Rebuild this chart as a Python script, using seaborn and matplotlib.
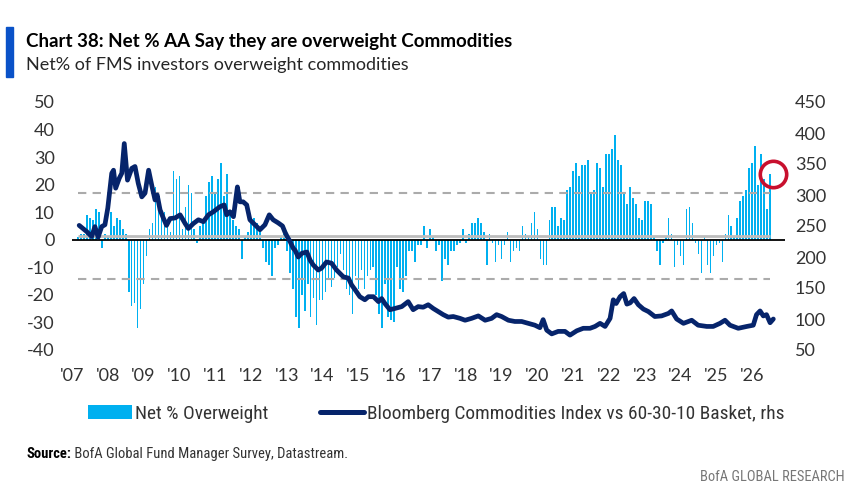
import numpy as np
import pandas as pd
import matplotlib
matplotlib.use("Agg")
import matplotlib.pyplot as plt
import seaborn as sns
from matplotlib import font_manager
from matplotlib.lines import Line2D
from matplotlib.patches import Patch, Rectangle

# ---------------- data ----------------
# Net % of FMS investors overweight commodities, monthly, Mar 2007 .. Jul 2026
y2007 = [1, 2, 2, 9, 8, 7, 11, 10, -3, 2]
y2008 = [1, 10, 5, 8, 7, 4, 2, -19, -24, -23, -32, -25]
y2009 = [-16, -6, 4, 6, 19, 11, 8, 10, 5, 3, 25, 22]
y2010 = [23, 4, 12, 20, 17, 4, -1, 5, 7, 16, 21, 23]
y2011 = [17, 22, 28, 16, 24, 10, 7, 5, 4, -7, 1, 3]
y2012 = [8, 8, 6, 3, -3, -8, -9, -13, -3, -2, 1, 2]
y2013 = [-4, -12, -18, -28, -32, -20, -26, -16, -28, -21, -31, -22]
y2014 = [-22, -19, -14, -17, -14, -10, -5, -11, -18, -20, -27, -13]
y2015 = [-18, -11, -18, -13, -11, -10, -20, -27, -32, -16, -28, -29]
y2016 = [-30, -10, -18, -19, -13, -4, -4, -8, -2, -2, 5, -3]
y2017 = [4, 1, -4, -2, -15, -7, -9, -4, -4, -2, -1, 4]
y2018 = [-1, 2, 6, 6, 8, 6, 3, -9, 2, -1, -8, -2]
y2019 = [-7, -2, 3, -8, -4, -3, -4, 5, 2, 1, 6, 10]
y2020 = [4, -7, -9, -9, 7, 12, 12, 5, 8, 7, 18, 19]
y2021 = [25, 28, 23, 27, 27, 29, 17, 18, 28, 26, 19, 31]
y2022 = [31, 33, 38, 29, 27, 17, 13, 19, 15, 13, 8, 7]
y2023 = [14, 14, 13, 1, -4, -9, -1, 1, 8, 2, -10, -2]
y2024 = [-6, -9, 11, 12, 6, -1, -5, -12, 1, -9, -12, -6]
y2025 = [-2, -1, -8, 2, 9, 5, 1, 8, 14, 16, 18, 26]
y2026 = [28, 34, 20, 31, 22, 11, 24]
first_month = "2007-03-01"

# Bloomberg Commodities Index vs 60-30-10 basket (rhs), decimal year / value
line_t = [2007.20, 2007.41, 2007.55, 2007.64, 2007.73, 2007.83, 2007.92, 2008.00,
          2008.11, 2008.16, 2008.22, 2008.32, 2008.39, 2008.46, 2008.55, 2008.67,
          2008.76, 2008.85, 2008.95, 2009.04, 2009.14, 2009.23, 2009.32, 2009.38,
          2009.46, 2009.55, 2009.64, 2009.74, 2009.88, 2010.02, 2010.16, 2010.25,
          2010.39, 2010.53, 2010.67, 2010.81, 2010.95, 2011.13, 2011.25, 2011.32,
          2011.41, 2011.51, 2011.62, 2011.69, 2011.78, 2011.88, 2011.97, 2012.11,
          2012.25, 2012.39, 2012.51, 2012.62, 2012.76, 2012.88, 2012.95, 2013.01,
          2013.09, 2013.18, 2013.23, 2013.32, 2013.42, 2013.56, 2013.65, 2013.74,
          2013.88, 2013.97, 2014.11, 2014.25, 2014.39, 2014.58, 2014.72, 2014.81,
          2014.91, 2015.04, 2015.18, 2015.28, 2015.42, 2015.56, 2015.65, 2015.74,
          2015.88, 2016.02, 2016.21, 2016.39, 2016.53, 2016.67, 2016.81, 2016.95,
          2017.09, 2017.23, 2017.37, 2017.51, 2017.65, 2017.84, 2017.98, 2018.16,
          2018.35, 2018.54, 2018.72, 2018.86, 2019.00, 2019.19, 2019.37, 2019.56,
          2019.75, 2019.93, 2020.07, 2020.16, 2020.26, 2020.40, 2020.58, 2020.77,
          2020.91, 2021.10, 2021.28, 2021.47, 2021.61, 2021.75, 2021.89, 2022.03,
          2022.12, 2022.20, 2022.31, 2022.41, 2022.50, 2022.59, 2022.70, 2022.82,
          2022.96, 2023.10, 2023.28, 2023.47, 2023.66, 2023.75, 2023.89, 2024.08,
          2024.31, 2024.49, 2024.73, 2024.91, 2025.10, 2025.24, 2025.38, 2025.61,
          2025.85, 2026.03, 2026.12, 2026.22, 2026.31, 2026.40, 2026.50, 2026.59]
line_v = [251, 241, 233, 249, 232, 249, 252, 279,
          335, 340, 311, 327, 335, 383, 324, 343,
          346, 319, 297, 303, 340, 315, 292, 300,
          276, 263, 251, 262, 263, 268, 254, 246,
          254, 260, 257, 268, 273, 281, 284, 268,
          273, 265, 313, 289, 289, 284, 260, 252,
          244, 252, 268, 260, 255, 250, 240, 233,
          225, 214, 211, 200, 206, 208, 195, 187,
          179, 182, 192, 190, 179, 168, 166, 155,
          147, 136, 131, 136, 136, 128, 133, 125,
          115, 117, 120, 128, 115, 120, 119, 123,
          117, 112, 107, 103, 104, 101, 98, 101,
          105, 98, 101, 107, 104, 98, 96, 96,
          93, 90, 86, 99, 82, 76, 80, 80,
          74, 81, 85, 85, 88, 93, 88, 101,
          131, 125, 136, 141, 124, 126, 133, 123,
          116, 112, 104, 105, 109, 113, 100, 93,
          98, 90, 88, 88, 93, 98, 90, 85,
          88, 90, 107, 113, 105, 107, 94, 100]

# reference lines: long-run average and +/- 1 standard deviation
avg_level = 1.4
sd_level = 15.6

left_ticks = list(range(-40, 51, 10))
right_ticks = list(range(50, 451, 50))
years = list(range(2007, 2027))
year_labels = ["'" + str(y)[2:] for y in years]

title = "Chart 38: Net % AA Say they are overweight Commodities"
subtitle = "Net% of FMS investors overweight commodities"
bar_label = "Net % Overweight"
line_label = "Bloomberg Commodities Index vs 60-30-10 Basket, rhs"
source_bold = "Source:"
source_rest = " BofA Global Fund Manager Survey, Datastream."
footer = "BofA GLOBAL RESEARCH"

# ---------------- style ----------------
BAR = "#00B0F0"
NAVY = "#06246B"
RED = "#C8102E"
ACCENT = "#0A52C8"
TXT = "#333333"

sns.set_style("white")
avail = {f.name for f in font_manager.fontManager.ttflist}


def pick(*cands):
    for c in cands:
        if c in avail:
            return c
    return "DejaVu Sans"


MAIN = pick("Lato", "Roboto", "Open Sans")
NARROW = pick("Liberation Sans Narrow", "Roboto Condensed", "Lato")
plt.rcParams["font.family"] = [MAIN, "DejaVu Sans"]

W, H = 863, 495
fig = plt.figure(figsize=(W / 100, H / 100), dpi=100)
fig.patch.set_facecolor("white")

# axes box in pixels: x 72..785, y 102..350
ax = fig.add_axes([72 / W, (H - 350) / H, (785 - 72) / W, (350 - 102) / H])
ax2 = ax.twinx()

net_ow = y2007 + y2008 + y2009 + y2010 + y2011 + y2012 + y2013 + y2014 + y2015 + \
    y2016 + y2017 + y2018 + y2019 + y2020 + y2021 + y2022 + y2023 + y2024 + y2025 + y2026
months = pd.date_range(first_month, periods=len(net_ow), freq="MS")
df = pd.DataFrame({"t": months.year + (months.month - 1) / 12.0, "v": net_ow})

sns.barplot(data=df, x="t", y="v", native_scale=True, color=BAR, saturation=1,
            width=0.55, linewidth=0, errorbar=None, ax=ax, zorder=2)

t0, t1 = df["t"].iloc[0], df["t"].iloc[-1]
ax.axhline(0, color="black", lw=1.3, zorder=4)
ax.hlines(avg_level, t0, t1, color="#BDBDBD", lw=2.0, zorder=3)
for lvl in (avg_level + sd_level, avg_level - sd_level):
    ax.hlines(lvl, t0, t1, color="#ABABAB", lw=1.5, linestyles=(0, (4, 3)), zorder=3)

sns.lineplot(x=line_t, y=line_v, ax=ax2, color=NAVY, linewidth=3.4,
             estimator=None, sort=False, zorder=5)

# highlight circle on latest reading
ax.plot(t1 + 0.09, df["v"].iloc[-1], marker="o", markersize=19, mfc="none",
        mec=RED, mew=2.6, zorder=6, clip_on=False)

ax.set_xlim(2007.0, 2007.0 + (785 - 72) / 35.8)
ax.set_ylim(-40, 50)
ax2.set_ylim(50, 450)
ax.set_xticks(years)
ax.set_xticklabels(year_labels)
ax.set_yticks(left_ticks)
ax.set_yticklabels([str(v) for v in left_ticks])
ax2.set_yticks(right_ticks)
ax2.set_yticklabels([str(v) for v in right_ticks])
ax.set_xlabel("")
ax.set_ylabel("")
ax2.set_xlabel("")
ax2.set_ylabel("")
for a in (ax, ax2):
    for s in a.spines.values():
        s.set_visible(False)
    a.grid(False)
ax.tick_params(axis="y", length=0, pad=12.5, labelsize=13, labelcolor=TXT)
ax.tick_params(axis="x", length=0, pad=13, labelsize=13, labelcolor=TXT)
ax2.tick_params(axis="y", length=0, pad=7, labelsize=13, labelcolor=TXT)
ax.patch.set_visible(False)

# ---------------- texts ----------------
renderer = fig.canvas.get_renderer()


def fit(txt, target_px):
    w = txt.get_window_extent(renderer).width
    txt.set_fontsize(txt.get_fontsize() * target_px / w)
    return txt


fig.patches.append(Rectangle((6 / W, 1 - 77 / H), 7 / W, 50 / H, transform=fig.transFigure,
                             color=ACCENT, zorder=1))
t_title = fig.text(26 / W, 1 - 47 / H, title, fontsize=15, weight="bold",
                   color="black", va="baseline", ha="left")
fit(t_title, 489)
t_sub = fig.text(26 / W, 1 - 70 / H, subtitle, fontsize=13, weight="normal",
                 color="#262626", va="baseline", ha="left")
fit(t_sub, 381)

# legend
probe = fig.text(0, 0, line_label, fontsize=10, family=[NARROW, "DejaVu Sans"])
leg_fs = 10 * 414 / probe.get_window_extent(renderer).width
probe.remove()
fs_px = leg_fs * 100 / 72
handles = [Patch(facecolor=BAR, edgecolor="none"),
           Line2D([0], [0], color=NAVY, lw=3.6)]
fig.legend(handles, [bar_label, line_label], loc="center",
           bbox_to_anchor=(436.5 / W, 1 - 414 / H), ncol=2, frameon=False,
           prop={"family": [NARROW, "DejaVu Sans"], "size": leg_fs},
           handlelength=44 / fs_px, handleheight=0.75, handletextpad=0.15,
           columnspacing=52 / fs_px, borderpad=0, labelcolor=TXT)

s1 = fig.text(26 / W, 1 - 458 / H, source_bold, fontsize=10.5, weight="bold",
              family=[NARROW, "DejaVu Sans"], color="black", va="baseline")
w1 = s1.get_window_extent(renderer).width
s2 = fig.text((26 + w1) / W, 1 - 458 / H, source_rest, fontsize=10.5,
              family=[NARROW, "DejaVu Sans"], color=TXT, va="baseline")
s2w = s2.get_window_extent(renderer).width
scale = (348 - 26) / (w1 + s2w)
s1.set_fontsize(10.5 * scale)
w1 = s1.get_window_extent(renderer).width
s2.set_fontsize(10.5 * scale)
s2.set_x((26 + w1) / W)

t_foot = fig.text(845 / W, 1 - 481 / H, footer, fontsize=10.5,
                  family=[NARROW, "DejaVu Sans"], color="#777777", va="baseline", ha="right")
fit(t_foot, 145)

fig.savefig("out.png", dpi=100, facecolor="white")
